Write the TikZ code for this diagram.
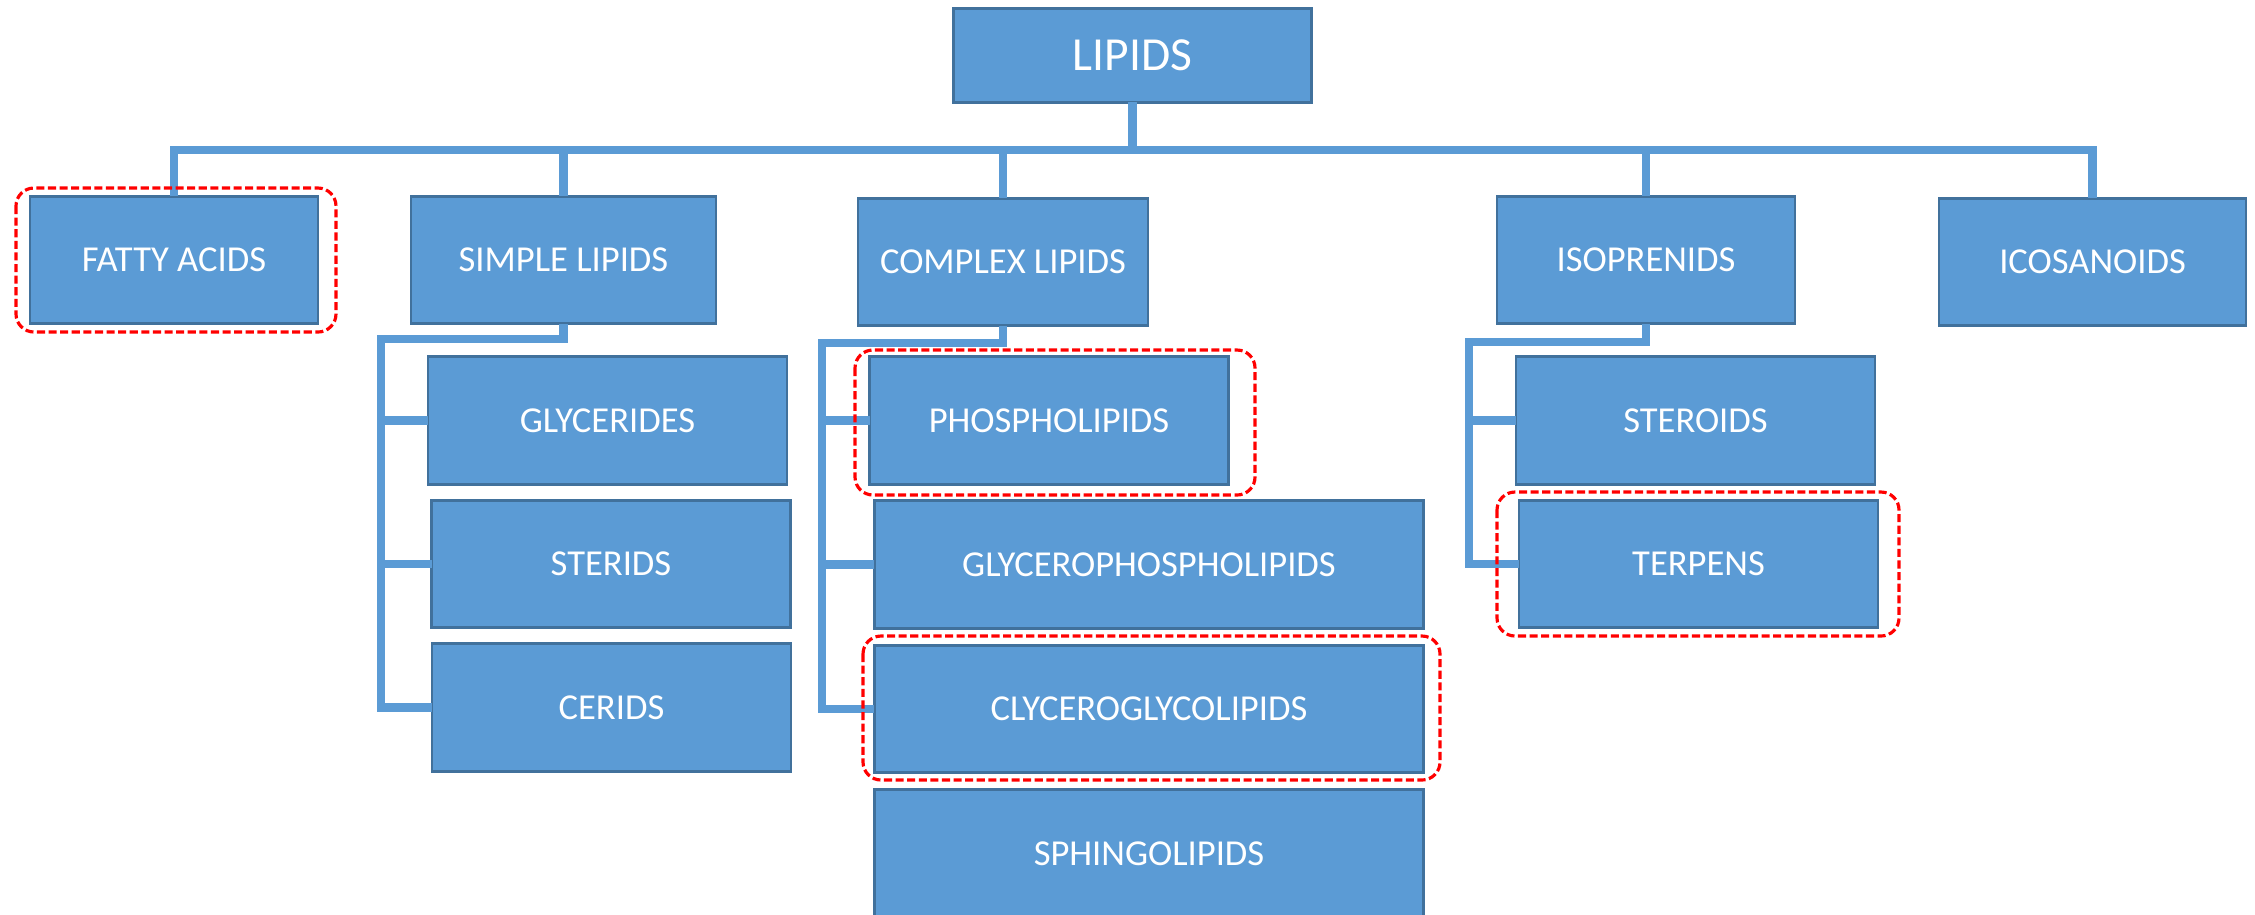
\documentclass[tikz,border=0pt]{standalone}
\usepackage{fontspec}
\setmainfont{Carlito}
\definecolor{lipidblue}{HTML}{5B9BD5}
\definecolor{lipidedge}{HTML}{41719C}
\begin{document}
\begin{tikzpicture}[x=1cm,y=-1cm,
    box/.style={draw=lipidedge, line width=0.75pt, fill=lipidblue, text=white,
      font=\fontsize{10.4pt}{12pt}\selectfont, inner sep=0pt, outer sep=0pt,
      minimum height=1.275cm},
    link/.style={draw=lipidblue, line width=2.4pt},
    pick/.style={draw=red, line width=0.9pt, dash pattern=on 2.3pt off 1pt,
      rounded corners=0.18cm}]
    \useasboundingbox (0,0) rectangle (22.55,9.14);
    \node[box, minimum width=3.58cm, minimum height=0.935cm,
      font=\fontsize{13.5pt}{15pt}\selectfont] (lipids) at (11.325,0.555) {LIPIDS};
    \node[box, minimum width=2.88cm] (fatty) at (1.74,2.60) {FATTY ACIDS};
    \node[box, minimum width=3.05cm] (simple) at (5.635,2.60) {SIMPLE LIPIDS};
    \node[box, minimum width=2.90cm] (complex) at (10.03,2.62) {COMPLEX LIPIDS};
    \node[box, minimum width=2.98cm] (iso) at (16.46,2.60) {ISOPRENIDS};
    \node[box, minimum width=3.07cm] (icos) at (20.925,2.62) {ICOSANOIDS};
    \node[box, minimum width=3.59cm] (glyc) at (6.075,4.205) {GLYCERIDES};
    \node[box, minimum width=3.59cm] (sterid) at (6.11,5.64) {STERIDS};
    \node[box, minimum width=3.59cm] (cerid) at (6.115,7.075) {CERIDS};
    \node[box, minimum width=3.585cm] (phospho) at (10.49,4.205) {PHOSPHOLIPIDS};
    \node[box, minimum width=5.495cm] (gphospho) at (11.49,5.645) {GLYCEROPHOSPHOLIPIDS};
    \node[box, minimum width=5.495cm] (gglyco) at (11.49,7.09) {CLYCEROGLYCOLIPIDS};
    \node[box, minimum width=5.495cm] (sphingo) at (11.49,8.535) {SPHINGOLIPIDS};
    \node[box, minimum width=3.59cm] (steroid) at (16.955,4.205) {STEROIDS};
    \node[box, minimum width=3.59cm] (terpen) at (16.985,5.64) {TERPENS};
    \coordinate (bus) at (0,1.50);
    \coordinate (sstem) at (3.81,3.39);
    \coordinate (cstem) at (8.22,3.43);
    \coordinate (istem) at (14.69,3.42);
    \draw[link] (lipids.south) -- (lipids.south |- bus);
    \draw[link] (fatty.north) -- (fatty.north |- bus) -- (icos.north |- bus) -- (icos.north);
    \foreach \n in {simple,complex,iso}
    \draw[link] (\n.north |- bus) -- (\n.north);
    \draw[link] (simple.south) |- (sstem) |- (cerid.west);
    \foreach \n in {glyc,sterid}
    \draw[link] (sstem |- \n.west) -- (\n.west);
    \draw[link] (complex.south) |- (cstem) |- (gglyco.west);
    \foreach \n in {phospho,gphospho}
    \draw[link] (cstem |- \n.west) -- (\n.west);
    \draw[link] (iso.south) |- (istem) |- (terpen.west);
    \draw[link] (istem |- steroid.west) -- (steroid.west);
    \draw[pick] (0.16,1.88) rectangle (3.36,3.32);
    \draw[pick] (8.55,3.50) rectangle (12.55,4.95);
    \draw[pick] (8.63,6.36) rectangle (14.40,7.80);
    \draw[pick] (14.97,4.92) rectangle (18.99,6.36);
\end{tikzpicture}
\end{document}
